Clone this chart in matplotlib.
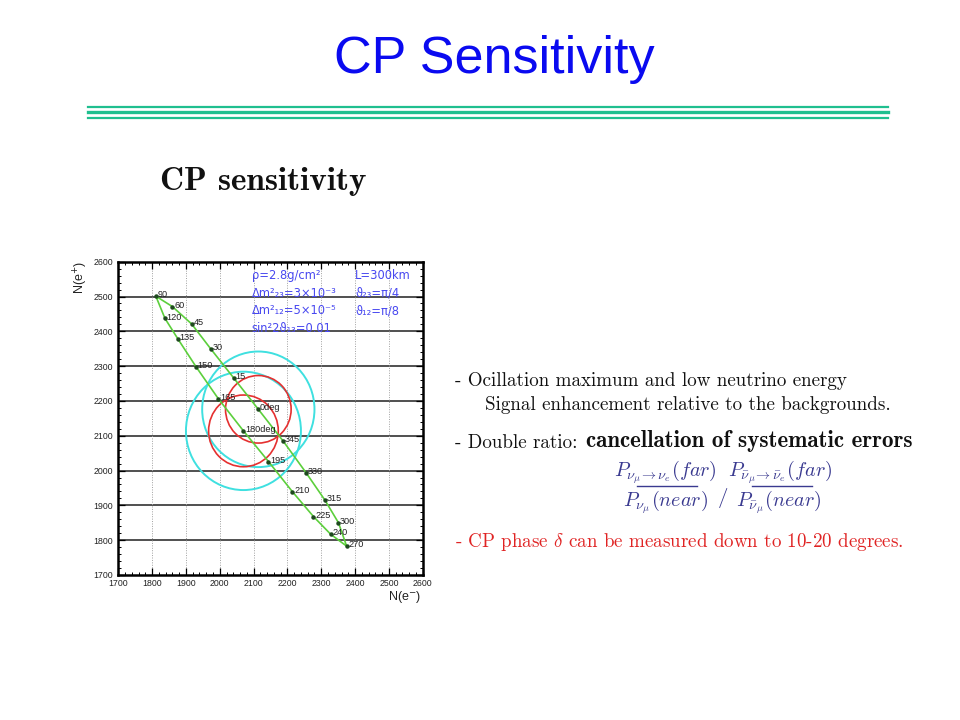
import matplotlib
matplotlib.use("Agg")
import matplotlib.pyplot as plt
from matplotlib.patches import Circle
from matplotlib.ticker import AutoMinorLocator

# ---------------- data ----------------
delta_labels = ['0deg', '15', '30', '45', '60', '90', '120', '135', '150', '165',
                '180deg', '195', '210', '225', '240', '270', '300', '315', '330', '345']
n_e_minus = [2114, 2042, 1973, 1917, 1860, 1811, 1838, 1877, 1930, 1996,
             2070, 2144, 2215, 2277, 2328, 2375, 2351, 2311, 2255, 2188]
n_e_plus = [2176, 2265, 2350, 2421, 2471, 2501, 2437, 2377, 2298, 2206,
            2114, 2026, 1939, 1868, 1817, 1783, 1850, 1915, 1994, 2084]
# error contours around delta = 0 and delta = 180 deg
contour_center_labels = ['0deg', '180deg']
red_radius = [97, 103]
cyan_radius = [166, 170]
x_ticks = [1700, 1800, 1900, 2000, 2100, 2200, 2300, 2400, 2500, 2600]
y_ticks = [1700, 1800, 1900, 2000, 2100, 2200, 2300, 2400, 2500, 2600]
param_left = ['ρ=2.8g/cm²', 'Δm²₂₃=3×10⁻³', 'Δm²₁₂=5×10⁻⁵', 'sin²2ϑ₁₃=0.01']
param_right = ['L=300km', 'ϑ₂₃=π/4', 'ϑ₁₂=π/8']

W, H = 960, 720
fig = plt.figure(figsize=(9.6, 7.2), dpi=100)
fig.patch.set_facecolor('white')

def fx(px):
    return px / W

def fy(py):
    return 1 - py / H

# ---------------- slide title & rules ----------------
fig.text(fx(494), fy(73.3), 'CP Sensitivity', family='Liberation Sans', fontsize=37.5,
         color='#0a0af0', ha='center', va='baseline')
rule_color = '#1fbf8f'
for yy, lw in [(107, 1.6), (112, 2.4), (117.5, 1.6)]:
    fig.add_artist(plt.Line2D([fx(88), fx(888)], [fy(yy), fy(yy)], color=rule_color,
                              lw=lw, transform=fig.transFigure))

fig.text(fx(160), fy(190), 'CP sensitivity', family='cmb10', fontsize=24,
         color='#111111', ha='left', va='baseline')

# ---------------- plot ----------------
ax = fig.add_axes([fx(118.3), fy(575), (422.7 - 118.3) / W, (575 - 261.7) / H])
ax.set_xlim(x_ticks[0], x_ticks[-1])
ax.set_ylim(y_ticks[0], y_ticks[-1])

for y in y_ticks[1:-1]:
    ax.axhline(y, color='#505050', lw=1.4, zorder=1)
for x in x_ticks[1:-1]:
    ax.axvline(x, color='#a0a0a0', lw=0.7, ls=(0, (1, 1.5)), zorder=1)

centers = {lab: (xv, yv) for lab, xv, yv in zip(delta_labels, n_e_minus, n_e_plus)}
for lab, r in zip(contour_center_labels, cyan_radius):
    ax.add_patch(Circle(centers[lab], r, fill=False, ec='#3fe0e0', lw=1.4, zorder=2))
for lab, r in zip(contour_center_labels, red_radius):
    ax.add_patch(Circle(centers[lab], r, fill=False, ec='#e53030', lw=1.2, zorder=3))

ax.plot(n_e_minus + n_e_minus[:1], n_e_plus + n_e_plus[:1], color='#5ccf3c', lw=1.2, zorder=4)
ax.plot(n_e_minus, n_e_plus, 'o', color='#1e4a1e', ms=2.2, zorder=5)
for lab, xv, yv in zip(delta_labels, n_e_minus, n_e_plus):
    ax.annotate(lab, (xv, yv), xytext=(1.2, 1.0), textcoords='offset points',
                fontsize=6.6, family='Liberation Sans', color='#202020',
                ha='left', va='center', zorder=6)

left_y = [0.956, 0.900, 0.843, 0.788]
for t, yv in zip(param_left, left_y):
    ax.text(0.438, yv, t, transform=ax.transAxes, fontsize=8.3,
            family=['DejaVu Sans'], color='#4848f0', va='center', ha='left', zorder=7)
for t, yv in zip(param_right, left_y):
    ax.text(0.778, yv, t, transform=ax.transAxes, fontsize=8.3,
            family=['DejaVu Sans'], color='#4848f0', va='center', ha='left', zorder=7)

ax.set_xticks(x_ticks)
ax.set_yticks(y_ticks)
ax.xaxis.set_minor_locator(AutoMinorLocator(5))
ax.yaxis.set_minor_locator(AutoMinorLocator(5))
ax.tick_params(which='both', direction='in', top=True, right=True, color='black')
ax.tick_params(which='major', length=5, width=0.9, labelsize=6.3, pad=3)
ax.tick_params(which='minor', length=2.5, width=0.7)
ax.tick_params(axis='y', pad=4)
for lbl in ax.get_xticklabels() + ax.get_yticklabels():
    lbl.set_family('Liberation Sans')
    lbl.set_color('#222222')
for s in ax.spines.values():
    s.set_linewidth(1.8)
    s.set_color('black')

fig.text(fx(421), fy(597), r'N(e$^{-}$)', family='Liberation Sans', fontsize=9,
         ha='right', va='center', color='#222222', math_fontfamily='dejavusans')
fig.text(fx(81), fy(277), r'N(e$^{+}$)', family='Liberation Sans', fontsize=9,
         ha='center', va='center', rotation=90, color='#222222', math_fontfamily='dejavusans')

# ---------------- right-hand text ----------------
fs = 13.7
fig.text(fx(455), fy(386), '- Ocillation maximum and low neutrino energy', family='cmr10',
         fontsize=fs, color='#111111', va='baseline')
fig.text(fx(485), fy(409.5), 'Signal enhancement relative to the backgrounds.', family='cmr10',
         fontsize=fs, color='#111111', va='baseline')
fig.text(fx(455), fy(447.5), '- Double ratio: ', family='cmr10',
         fontsize=fs, color='#111111', va='baseline')
fig.text(fx(586), fy(447.5), 'cancellation of systematic errors', family='cmb10',
         fontsize=16.6, color='#111111', va='baseline')

fcol = '#3a3a90'
ffs = 14.5
fig.text(fx(665), fy(476), r'$P_{\nu_\mu\!\rightarrow\nu_e}(far)$', fontsize=ffs, color=fcol,
         ha='center', va='baseline', math_fontfamily='cm')
fig.text(fx(665), fy(506), r'$P_{\nu_\mu}(near)$', fontsize=ffs, color=fcol,
         ha='center', va='baseline', math_fontfamily='cm')
fig.text(fx(723), fy(498), '/', family='cmr10', fontsize=15, color=fcol,
         ha='center', va='center')
fig.text(fx(780), fy(476), r'$P_{\bar{\nu}_\mu\!\rightarrow\bar{\nu}_e}(far)$', fontsize=ffs,
         color=fcol, ha='center', va='baseline', math_fontfamily='cm')
fig.text(fx(779), fy(506), r'$P_{\bar{\nu}_\mu}(near)$', fontsize=ffs, color=fcol,
         ha='center', va='baseline', math_fontfamily='cm')
for x0, x1 in [(637, 697), (752, 812)]:
    fig.add_artist(plt.Line2D([fx(x0), fx(x1)], [fy(485.5), fy(485.5)], color=fcol, lw=1.0,
                              transform=fig.transFigure))

fig.text(fx(455), fy(547), r'- CP phase $\delta$ can be measured down to 10-20 degrees.',
         family='cmr10', fontsize=fs, color='#e02424', va='baseline', math_fontfamily='cm')

fig.savefig('out.png', dpi=100, facecolor='white')
